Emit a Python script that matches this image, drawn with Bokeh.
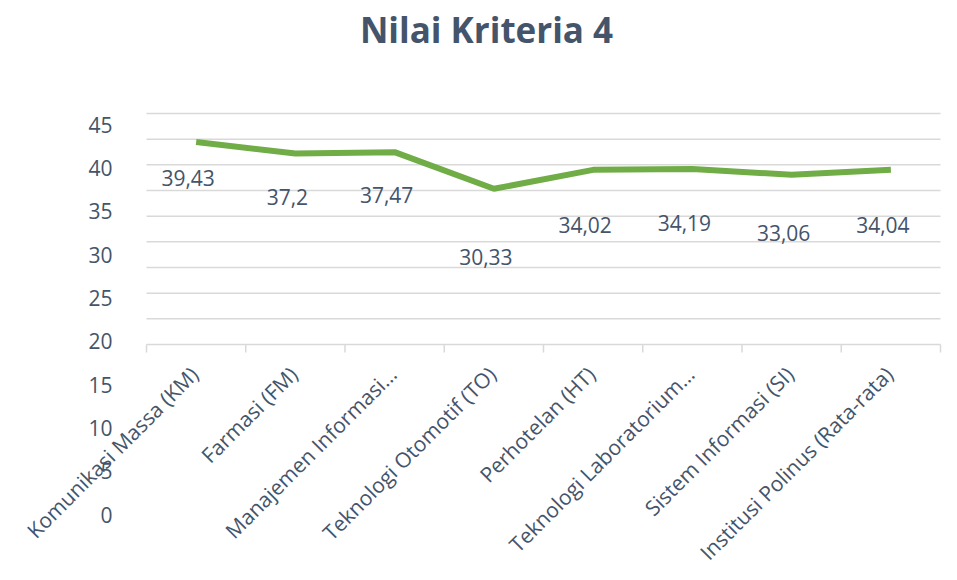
import math
from bokeh.plotting import figure
from bokeh.models import ColumnDataSource, Range1d
from bokeh.core.properties import value
from bokeh.embed import file_html
from bokeh.resources import INLINE

# ---- data ----
categories = ["Komunikasi Massa (KM)", "Farmasi (FM)", "Manajemen Informasi\u2026",
              "Teknologi Otomotif (TO)", "Perhotelan (HT)", "Teknologi Laboratorium\u2026",
              "Sistem Informasi (SI)", "Institusi Polinus (Rata-rata)"]
values = [39.43, 37.2, 37.47, 30.33, 34.02, 34.19, 33.06, 34.04]
value_labels = ["39,43", "37,2", "37,47", "30,33", "34,02", "34,19", "33,06", "34,04"]
y_ticks = [0, 5, 10, 15, 20, 25, 30, 35, 40, 45]
y_tick_labels = [str(t) for t in y_ticks]
title_text = "Nilai Kriteria 4"

# ---- style ----
TEXT = "#44546a"
GRID = "#d9d9d9"
GREEN = "#70ad47"
FONT = value("Open Sans")

W, H = 949, 572
LEFT, TOP = 23, 53            # frame offsets inside the canvas
# plot-area geometry (canvas pixels): category band, value axis, label scale
BAND_X0, BAND_W = 146, 99.25
AXIS_Y, PX_PER_UNIT = 344, 231 / 45
LAB_Y0, LAB_PX = 514, 8.66

n = len(categories)
xs = list(range(n))

def xr(px):
    return (px - BAND_X0) / BAND_W - 0.5

x_range = Range1d(xr(LEFT), xr(W))
y_range = Range1d((AXIS_Y - H) / PX_PER_UNIT, (AXIS_Y - TOP) / PX_PER_UNIT)
lab_range = Range1d((LAB_Y0 - H) / LAB_PX, (LAB_Y0 - TOP) / LAB_PX)

p = figure(width=W, height=H, x_range=x_range, y_range=y_range,
           x_axis_location=None, y_axis_location=None,
           toolbar_location=None, output_backend="svg",
           min_border_left=LEFT, min_border_right=0, min_border_top=TOP,
           min_border_bottom=0)
p.outline_line_color = None
p.grid.visible = False
p.extra_y_ranges = {"lab": lab_range}

# gridlines (value axis 0..45) over the category band
p.segment(x0=[-0.5] * len(y_ticks), x1=[n - 0.5] * len(y_ticks), y0=y_ticks, y1=y_ticks,
          line_color=GRID, line_width=1.5)

# category boundary tick marks below the axis line
bounds = [i - 0.5 for i in range(n + 1)]
p.ray(x=bounds, y=[0] * len(bounds), length=8, length_units="screen",
      angle=-math.pi / 2, line_color=GRID, line_width=1.5)

# value tick labels (drawn on the label scale)
p.text(x=[-0.5] * len(y_ticks), y=y_ticks, text=y_tick_labels, y_range_name="lab",
       x_offset=-34, text_align="right", text_baseline="middle",
       text_font=FONT, text_font_size="21px", text_color=TEXT)

# series line
src = ColumnDataSource(dict(x=xs, val=values, lab=value_labels, cat=categories,
                            zero=[0] * n))
p.line(x="x", y="val", source=src, line_color=GREEN, line_width=6)

# data labels
p.text(x="x", y="val", text="lab", source=src, y_range_name="lab",
       x_offset=-8, y_offset=5, text_align="center", text_baseline="middle",
       text_font=FONT, text_font_size="21px", text_color=TEXT)

# category labels
p.text(x="x", y="zero", text="cat", source=src, angle=math.pi / 4,
       x_offset=-2, y_offset=26, text_align="right", text_baseline="middle",
       text_font=FONT, text_font_size="21px", text_color=TEXT)

p.title.text = title_text
p.title.align = "center"
p.title.standoff = 2
p.title.text_font = "Open Sans"
p.title.text_font_size = "35px"
p.title.text_font_style = "bold"
p.title.text_color = TEXT

open("out.html", "w").write(file_html(p, INLINE))
